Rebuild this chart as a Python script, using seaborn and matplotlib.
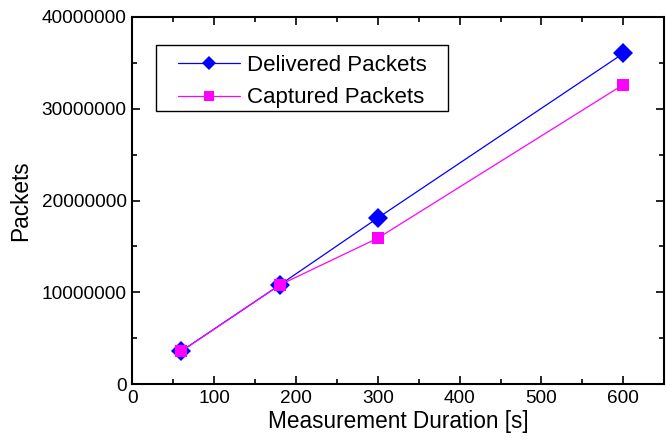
import matplotlib
matplotlib.use("Agg")
import matplotlib.pyplot as plt
import seaborn as sns
import pandas as pd
from matplotlib.ticker import MultipleLocator, FuncFormatter
from matplotlib.lines import Line2D
from matplotlib.legend_handler import HandlerLine2D
from matplotlib.patches import Rectangle

duration = [60, 180, 300, 600]
delivered = [3620000, 10800000, 18100000, 36000000]
captured = [3600000, 10800000, 15900000, 32600000]

sns.set_style("ticks")
plt.rcParams['font.family'] = ['Liberation Sans', 'DejaVu Sans']
plt.rcParams['text.color'] = 'black'
plt.rcParams['axes.labelcolor'] = 'black'
plt.rcParams['xtick.color'] = 'black'
plt.rcParams['ytick.color'] = 'black'

fig = plt.figure(figsize=(6.66, 4.41), dpi=100)
ax = fig.add_axes([0.1987, 0.1286, 0.7985, 0.8335])

df_d = pd.DataFrame({"x": duration, "y": delivered})
df_c = pd.DataFrame({"x": duration, "y": captured})

sns.lineplot(data=df_d, x="x", y="y", ax=ax, color="#0000FF", marker="D",
             markersize=10, markeredgewidth=0, linewidth=0.9, label="Delivered Packets")
sns.lineplot(data=df_c, x="x", y="y", ax=ax, color="#FF00FF", marker="s",
             markersize=8.7, markeredgewidth=0, linewidth=0.9, label="Captured Packets")

ax.set_xlim(0, 650)
ax.set_ylim(0, 40000000)
ax.xaxis.set_major_locator(MultipleLocator(100))
ax.xaxis.set_minor_locator(MultipleLocator(50))
ax.yaxis.set_major_locator(MultipleLocator(10000000))
ax.yaxis.set_minor_locator(MultipleLocator(5000000))
ax.yaxis.set_major_formatter(FuncFormatter(lambda v, p: "%d" % v))

ax.tick_params(which="both", direction="in", top=True, right=True, width=1.2,
               labelsize=13.7, colors="black")
ax.tick_params(which="major", length=5.5, pad=4)
ax.tick_params(which="minor", length=3.5)
for s in ax.spines.values():
    s.set_linewidth(1.5)
    s.set_color("black")

ax.set_xlabel("Measurement Duration [s]", fontsize=16.3, labelpad=2, color="black")
ax.set_ylabel("Packets", fontsize=16.3, labelpad=7, color="black")

leg = ax.legend(loc="upper left", bbox_to_anchor=(0.0446, 0.923), borderaxespad=0,
                fontsize=16, frameon=False, markerscale=0.75,
                handlelength=3.33, handletextpad=0.32,
                borderpad=0.46, labelspacing=0.5,
                handler_map={Line2D: HandlerLine2D(xpad=0.54)})
for t in leg.get_texts():
    t.set_color("black")

ax.add_patch(Rectangle((0.0446, 0.7435), 0.549, 0.1795, transform=ax.transAxes,
                       fill=False, edgecolor="black", linewidth=1.0, zorder=5))

fig.savefig("out.png", dpi=100)
